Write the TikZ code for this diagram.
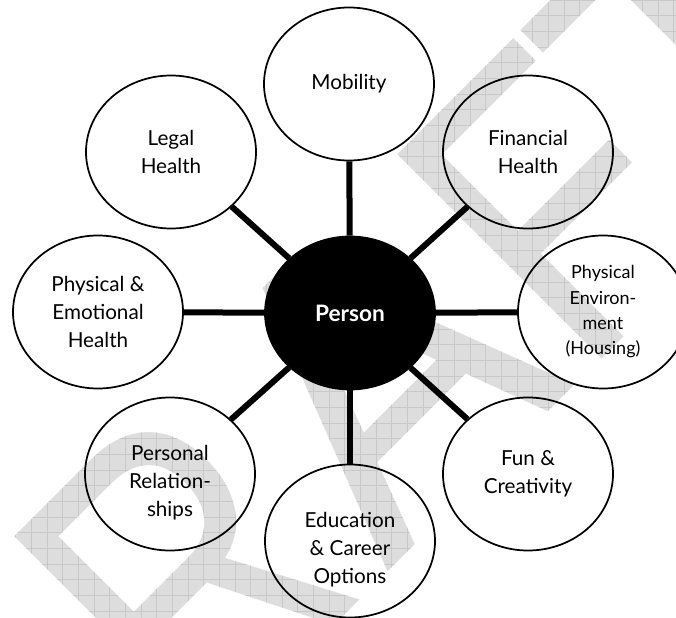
\documentclass[tikz,border=0pt]{standalone}
\usepackage{fontspec}
\setmainfont{Lato}
\newfontfamily\wmfont{Liberation Sans}
\usetikzlibrary{shapes.geometric,fadings}

\definecolor{wmgray}{RGB}{221,221,221}
\definecolor{wmline}{RGB}{200,200,200}

\tikzset{
	bubble/.style={ellipse,draw,line width=1.3pt,minimum width=127.5pt,minimum height=114.75pt,inner sep=0pt,align=center,font=\fontsize{15.5}{21}\selectfont},
	small/.style={font=\fontsize{13.5}{19}\selectfont},
	hub/.style={bubble,fill=black,text=white,font=\fontsize{17}{21}\selectfont\bfseries},
	spoke/.style={line width=4.5pt},
	wmletter/.style={rotate=45,anchor=base west,inner sep=0pt,text=transparent!0,font=\wmfont\fontsize{315}{315}\selectfont},
	wmfaded/.style={path fading=draftfade,fit fading=false,fading transform={shift={(338,309)}}},
}

\begin{tikzfadingfrompicture}[name=draftfade,x=0.75pt,y=-0.75pt]
	\useasboundingbox (-338,-309) rectangle (338,309);
	\begin{scope}[shift={(-338,-309)}]
		\node[wmletter,xscale=0.8] (wr) at (199.4,760.8) {R};
		\node[wmletter,xscale=0.95] (wa) at (387.5,572.8) {A};
		\node[wmletter,xscale=0.8] (wf) at (582,378.3) {F};
		\node[wmletter] (wt) at (718,242) {T};
	\end{scope}
\end{tikzfadingfrompicture}

\begin{document}
\begin{tikzpicture}[x=0.75pt,y=-0.75pt]

	\useasboundingbox (0,0) rectangle (676,618);
	\clip (0,0) rectangle (676,618);

	\fill[wmgray,wmfaded] (0,0) rectangle (676,618);
	\draw[wmline,line width=0.6pt,step=11.75pt,wmfaded] (0,0) grid (676,618);

	\node[hub] (p) at (350,313) {Person};

	\node[bubble] (mob) at (349,84) {Mobility};
	\node[bubble] (fin) at (528,152) {Financial\\Health};
	\node[bubble,small] (env) at (603,312) {Physical\\Environ-\\ment\\(Housing)};
	\node[bubble] (fun) at (528,474) {Fun \&\\Creativity};
	\node[bubble] (edu) at (350,541) {\rule{0pt}{24pt}Education\\\& Career\\Options};
	\node[bubble] (rel) at (170,474) {\rule{0pt}{24pt}Personal\\Relation-\\ships};
	\node[bubble] (phy) at (98,312) {Physical \&\\Emotional\\Health};
	\node[bubble] (leg) at (171,152) {Legal\\Health};

	\draw[spoke] (p) -- (mob);
	\draw[spoke] (p) -- (fin);
	\draw[spoke] (p) -- (env);
	\draw[spoke] (p) -- (fun);
	\draw[spoke] (p) -- (edu);
	\draw[spoke] (p) -- (rel);
	\draw[spoke] (p) -- (phy);
	\draw[spoke] (p) -- (leg);

\end{tikzpicture}
\end{document}
